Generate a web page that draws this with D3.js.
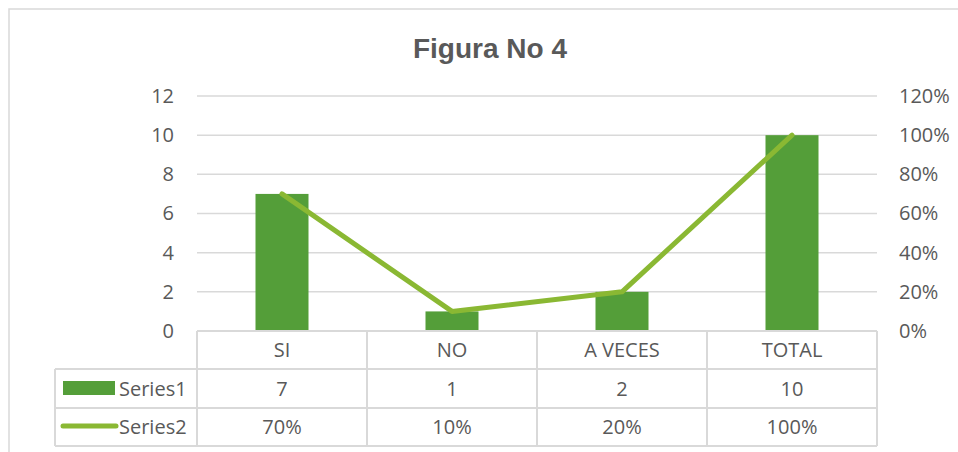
<!DOCTYPE html>
<html>
<head>
<meta charset="utf-8">
<script src="https://cdn.jsdelivr.net/npm/d3@7"></script>
<style>
  body { margin: 0; background: #fff; }
  svg text { font-family: "Open Sans", sans-serif; fill: #595959; }
</style>
</head>
<body>
<svg id="chart" width="958" height="452"></svg>
<script>
// data
var categories = ["SI", "NO", "A VECES", "TOTAL"];
var series1 = [7, 1, 2, 10];
var series2 = [0.70, 0.10, 0.20, 1.00];
var seriesNames = ["Series1", "Series2"];
var leftTicks = [0, 2, 4, 6, 8, 10, 12];
var rightTicks = [0, 0.2, 0.4, 0.6, 0.8, 1.0, 1.2];

var barColor = "#549E39",
    lineColor = "#8AB833",
    gridColor = "#d9d9d9";

var fontSize = "20px";

var svg = d3.select("#chart");

// outer chart border
svg.append("rect")
    .attr("x", 9).attr("y", 9)
    .attr("width", 960).attr("height", 460)
    .attr("fill", "none")
    .attr("stroke", gridColor)
    .attr("stroke-width", 1.5);

svg.append("text")
    .attr("x", 490).attr("y", 58)
    .attr("text-anchor", "middle")
    .style("font-family", "'Liberation Sans', Arial, sans-serif")
    .style("font-weight", "bold")
    .style("font-size", "28px")
    .text("Figura No 4");

var plotLeft = 197, plotRight = 877, plotTop = 96, plotBottom = 331;

var x = d3.scaleBand().domain(categories).range([plotLeft, plotRight]);
var y = d3.scaleLinear().domain([0, 12]).range([plotBottom, plotTop]);
var y2 = d3.scaleLinear().domain([0, 1.2]).range([plotBottom, plotTop]);

// gridlines
svg.append("g").selectAll("line")
    .data(leftTicks)
    .enter().append("line")
    .attr("x1", plotLeft).attr("x2", plotRight)
    .attr("y1", function(d) { return y(d); })
    .attr("y2", function(d) { return y(d); })
    .attr("stroke", gridColor)
    .attr("stroke-width", 1.5);

// left axis
var gl = svg.append("g")
    .attr("transform", "translate(" + (plotLeft - 23) + ",0)")
    .call(d3.axisLeft(y).tickValues(leftTicks).tickSize(0).tickPadding(0));
gl.select(".domain").remove();
gl.selectAll("text").style("font-size", fontSize).attr("font-family", null).attr("fill", null);

// right axis
var gr = svg.append("g")
    .attr("transform", "translate(" + (plotRight + 22) + ",0)")
    .call(d3.axisRight(y2).tickValues(rightTicks).tickSize(0).tickPadding(0)
        .tickFormat(d3.format(".0%")));
gr.select(".domain").remove();
gr.selectAll("text").style("font-size", fontSize).attr("font-family", null).attr("fill", null);

// bars
var barW = 53;
svg.append("g").selectAll("rect")
    .data(series1)
    .enter().append("rect")
    .attr("x", function(d, i) { return x(categories[i]) + (x.bandwidth() - barW) / 2; })
    .attr("y", function(d) { return y(d); })
    .attr("width", barW)
    .attr("height", function(d) { return plotBottom - y(d); })
    .attr("fill", barColor);

// line
var line = d3.line()
    .x(function(d, i) { return x(categories[i]) + x.bandwidth() / 2; })
    .y(function(d) { return y2(d); });

svg.append("path")
    .datum(series2)
    .attr("d", line)
    .attr("fill", "none")
    .attr("stroke", lineColor)
    .attr("stroke-width", 5)
    .attr("stroke-linecap", "round")
    .attr("stroke-linejoin", "round");

// data table
var rowY = [plotBottom, 369, 408, 446];
var tableLeft = 55;
var tbl = svg.append("g")
    .attr("stroke", gridColor)
    .attr("stroke-width", 2)
    .attr("fill", "none");

tbl.append("line").attr("x1", plotLeft).attr("x2", plotRight).attr("y1", rowY[0]).attr("y2", rowY[0]);
[rowY[1], rowY[2], rowY[3]].forEach(function(yy) {
  tbl.append("line").attr("x1", tableLeft).attr("x2", plotRight).attr("y1", yy).attr("y2", yy);
});
tbl.append("line").attr("x1", tableLeft).attr("x2", tableLeft).attr("y1", rowY[1]).attr("y2", rowY[3]);
categories.forEach(function(c) {
  tbl.append("line").attr("x1", x(c)).attr("x2", x(c)).attr("y1", rowY[0]).attr("y2", rowY[3]);
});
tbl.append("line").attr("x1", plotRight).attr("x2", plotRight).attr("y1", rowY[0]).attr("y2", rowY[3]);

function cellText(yy, values, fmt) {
  svg.append("g").selectAll("text")
      .data(values)
      .enter().append("text")
      .attr("x", function(d, i) { return x(categories[i]) + x.bandwidth() / 2; })
      .attr("y", yy)
      .attr("dy", "0.35em")
      .attr("text-anchor", "middle")
      .style("font-size", fontSize)
      .text(fmt);
}
cellText((rowY[0] + rowY[1]) / 2, categories, function(d) { return d; });
cellText((rowY[1] + rowY[2]) / 2, series1, function(d) { return d; });
cellText((rowY[2] + rowY[3]) / 2, series2, d3.format(".0%"));

// legend keys inside the table
svg.append("rect")
    .attr("x", 63).attr("y", 381)
    .attr("width", 52).attr("height", 14)
    .attr("fill", barColor);
svg.append("line")
    .attr("x1", 63).attr("x2", 116)
    .attr("y1", 426).attr("y2", 426)
    .attr("stroke", lineColor)
    .attr("stroke-width", 5)
    .attr("stroke-linecap", "round");

svg.selectAll(".legendLabel")
    .data(seriesNames)
    .enter().append("text")
    .attr("class", "legendLabel")
    .attr("x", 119)
    .attr("y", function(d, i) { return (rowY[i + 1] + rowY[i + 2]) / 2; })
    .attr("dy", "0.35em")
    .style("font-size", fontSize)
    .text(function(d) { return d; });
</script>
</body>
</html>
